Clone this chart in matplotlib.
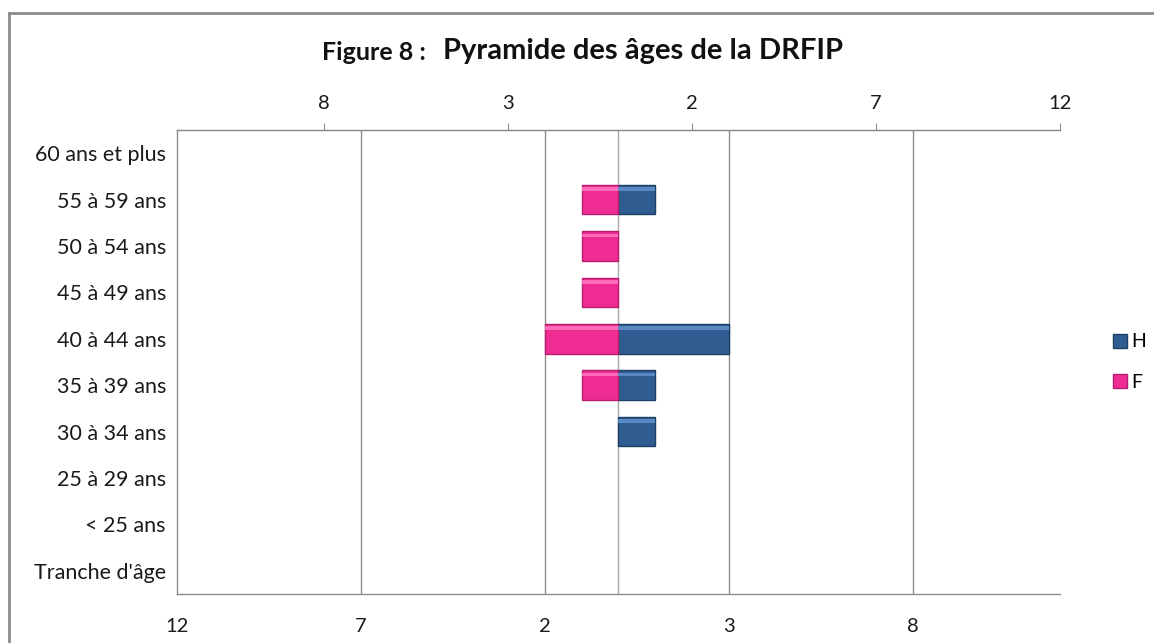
import matplotlib
matplotlib.use("Agg")
import matplotlib.pyplot as plt
import numpy as np
from matplotlib.lines import Line2D

plt.rcParams['font.family'] = ['Lato', 'DejaVu Sans']

categories = ["Tranche d'âge", "< 25 ans", "25 à 29 ans", "30 à 34 ans", "35 à 39 ans",
              "40 à 44 ans", "45 à 49 ans", "50 à 54 ans", "55 à 59 ans", "60 ans et plus"]
hommes = [0, 0, 0, 1, 1, 3, 0, 0, 1, 0]
femmes = [0, 0, 0, 0, 1, 2, 1, 1, 1, 0]
bottom_ticks = [-12, -7, -2, 3, 8]
top_ticks = [-8, -3, 2, 7, 12]

col_h = '#2F5D92'
col_f = '#EE2C93'
edge_h = '#1E3F66'
edge_f = '#B81E6E'
light_h = '#5A88C2'
light_f = '#FF6BB8'

fig = plt.figure(figsize=(11.54, 6.43), dpi=100)
ax = fig.add_axes([0.1534, 0.0762, 0.7651, 0.7216])

y = np.arange(len(categories))
h = np.array(hommes, dtype=float)
f = -np.array(femmes, dtype=float)
bh = 0.64

for vals, c, e, lc in [(h, col_h, edge_h, light_h), (f, col_f, edge_f, light_f)]:
    mask = vals != 0
    ax.barh(y[mask], vals[mask], height=bh, color=c, edgecolor=e, linewidth=1.0, zorder=3)
    ax.barh(y[mask] + bh * 0.36, vals[mask], height=bh * 0.12, color=lc,
            edgecolor='none', linewidth=0, zorder=4)

ax.set_xlim(-12, 12)
ax.set_ylim(-0.5, len(categories) - 0.5)

fs = 14.5
ax.set_yticks(y)
ax.set_yticklabels(categories, fontsize=15.5, color='#1a1a1a')
ax.tick_params(axis='y', length=0, pad=8)

ax.set_xticks(bottom_ticks)
ax.set_xticklabels([str(abs(t)) for t in bottom_ticks], fontsize=fs, color='#1a1a1a')
ax.tick_params(axis='x', length=0, pad=17)

for t in bottom_ticks[1:]:
    ax.axvline(t, color='#8c8c8c', linewidth=1.0, zorder=1)
ax.axvline(0, color='#a8a8a8', linewidth=1.0, zorder=2)

ax.spines['right'].set_visible(False)
for s in ['left', 'bottom', 'top']:
    ax.spines[s].set_color('#8c8c8c')
    ax.spines[s].set_linewidth(1.0)

ax2 = ax.twiny()
ax2.set_xlim(-12, 12)
ax2.set_xticks(top_ticks)
ax2.set_xticklabels([str(abs(t)) for t in top_ticks], fontsize=fs, color='#1a1a1a')
ax2.tick_params(axis='x', length=5, color='#8c8c8c', pad=8)
for s in ['right', 'left', 'bottom']:
    ax2.spines[s].set_visible(False)
ax2.spines['top'].set_color('#8c8c8c')

fig.text(0.279, 0.918, "Figure 8 :", fontsize=18, fontweight='bold', ha='left', va='center', color='#111111')
fig.text(0.384, 0.921, "Pyramide des âges de la DRFIP", fontsize=21, fontweight='bold',
         ha='left', va='center', color='#111111')

handles = [Line2D([0], [0], marker='s', linestyle='none', markersize=10,
                  markerfacecolor=col_h, markeredgecolor=edge_h),
           Line2D([0], [0], marker='s', linestyle='none', markersize=10,
                  markerfacecolor=col_f, markeredgecolor=edge_f)]
fig.legend(handles, ['H', 'F'], loc='center left', bbox_to_anchor=(0.955, 0.437),
           frameon=False, fontsize=14, handletextpad=0.1, labelspacing=1.2,
           handlelength=1.0, borderaxespad=0)

fig.add_artist(Line2D([0.0075, 0.0075], [0.0, 0.98], color='#8c8c8c', linewidth=2,
                      transform=fig.transFigure))
fig.add_artist(Line2D([0.0075, 1.0], [0.98, 0.98], color='#8c8c8c', linewidth=2,
                      transform=fig.transFigure))

fig.savefig('out.png', dpi=100)
